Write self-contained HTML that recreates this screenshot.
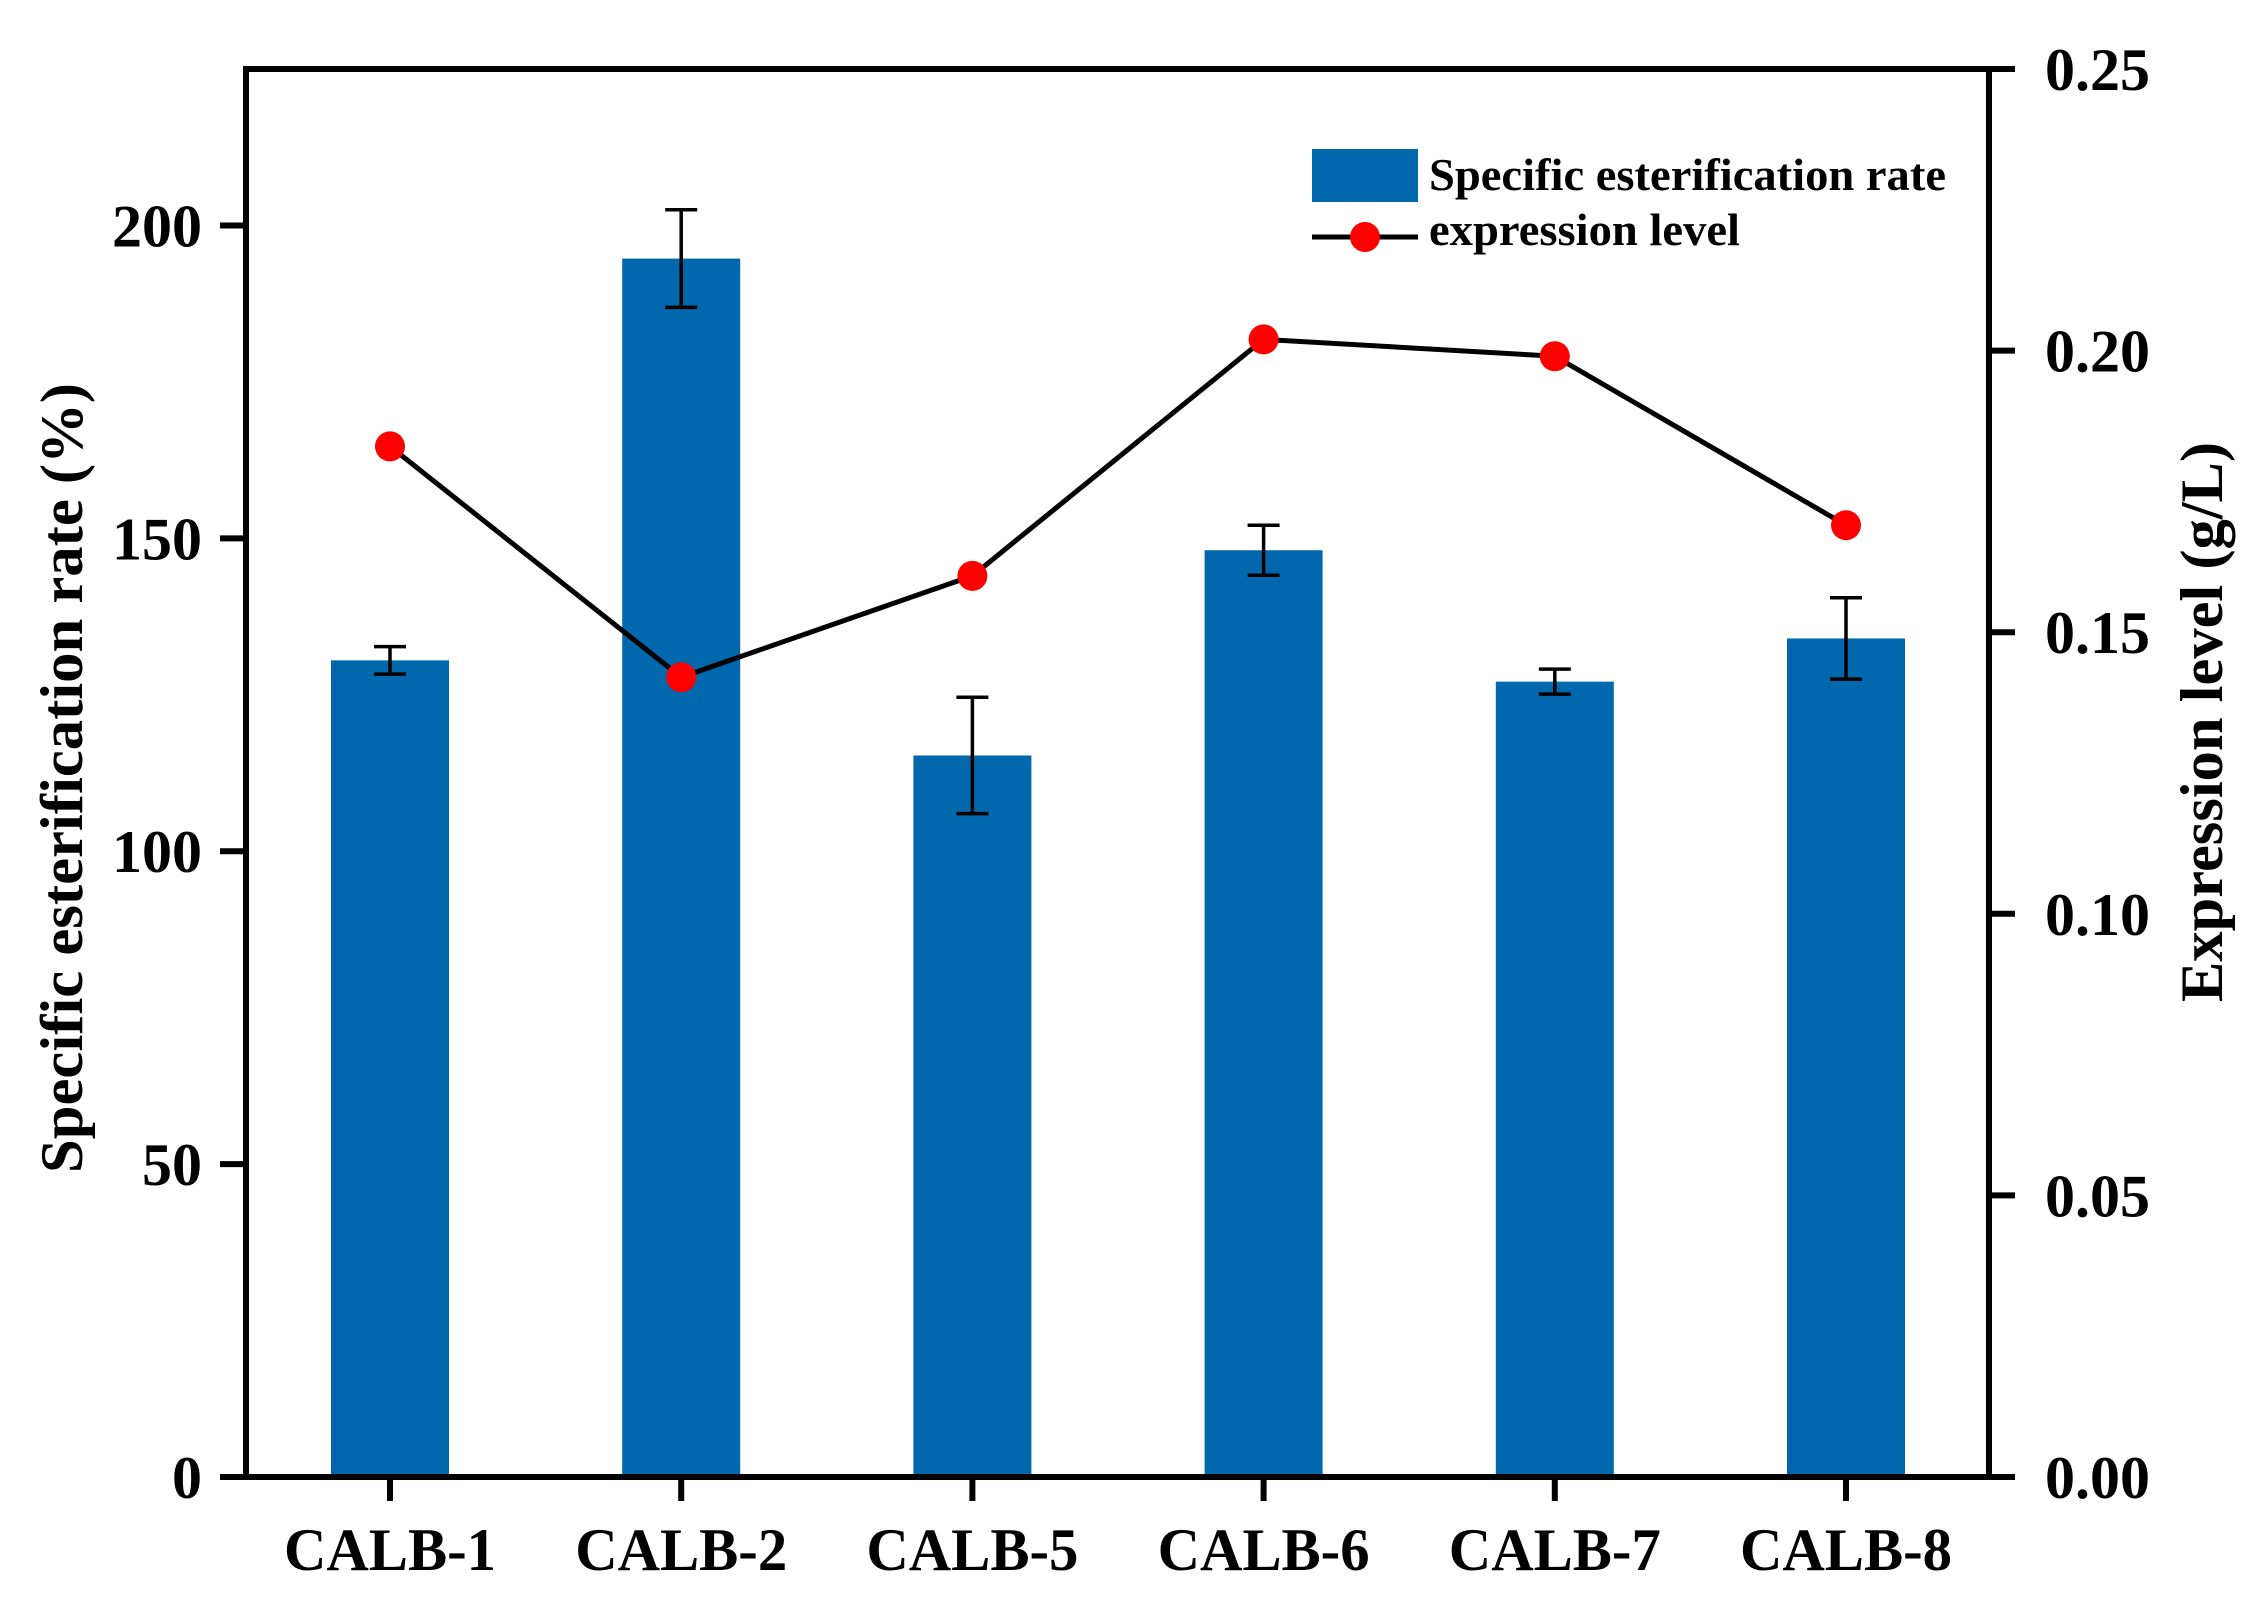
<!DOCTYPE html>
<html><head><meta charset="utf-8"><style>
html,body{margin:0;padding:0;background:#fff;}
svg{display:block;}
text{font-family:"Liberation Serif",serif;font-weight:bold;fill:#000;}
</style></head><body>
<svg id="chart" width="2268" height="1611" viewBox="0 0 2268 1611">
<g id="bars"></g>
<g id="errs"></g>
<g id="line"></g>
<g id="axes"></g>
<text x="0" y="0" transform="translate(82,778) rotate(-90)" text-anchor="middle" font-size="60" textLength="790" lengthAdjust="spacingAndGlyphs">Specific esterification rate (%)</text>
<text x="0" y="0" transform="translate(2222,722) rotate(-90)" text-anchor="middle" font-size="60" textLength="560" lengthAdjust="spacingAndGlyphs">Expression level (g/L)</text>
<g>
<rect x="1312" y="149" width="106" height="53" fill="#0268ad"/>
<text x="1429" y="190" font-size="46" textLength="517" lengthAdjust="spacingAndGlyphs">Specific esterification rate</text>
<line x1="1312" y1="237" x2="1418" y2="237" stroke="#000" stroke-width="5"/>
<circle cx="1365" cy="237" r="15" fill="#ff0000"/>
<text x="1429" y="245" font-size="46" textLength="311" lengthAdjust="spacingAndGlyphs">expression level</text>
</g>
</svg>
<script>
const categories=["CALB-1","CALB-2","CALB-5","CALB-6","CALB-7","CALB-8"];
const rates=[130.5,194.7,115.3,148.1,127.1,134];
const rateErrors=[2.2,7.8,9.3,4,2,6.5];
const expression=[0.183,0.142,0.160,0.202,0.199,0.169];
const leftTicks=[0,50,100,150,200];
const rightTicks=["0.00","0.05","0.10","0.15","0.20","0.25"];

const NS="http://www.w3.org/2000/svg";
const L=246,R=1989,T=69,B=1477;
const yL=v=>B-(v/225)*(B-T);
const yR=v=>B-(v/0.25)*(B-T);
const xC=i=>390+i*291.2;
function mk(tag,attrs,parent){const e=document.createElementNS(NS,tag);for(const k in attrs)e.setAttribute(k,attrs[k]);parent.appendChild(e);return e;}
const gb=document.getElementById('bars'),ge=document.getElementById('errs'),gl=document.getElementById('line'),ga=document.getElementById('axes');
rates.forEach((v,i)=>{
 const r=mk('rect',{x:xC(i)-59,y:yL(v),width:118,height:B-yL(v),fill:'#0268ad'},gb);
 
 
 const e=rateErrors[i],g=mk('g',{stroke:'#000','stroke-width':3.5},ge);
 
 
 mk('line',{x1:xC(i),x2:xC(i),y1:yL(v+e),y2:yL(v-e)},g);
 mk('line',{x1:xC(i)-16,x2:xC(i)+16,y1:yL(v+e),y2:yL(v+e)},g);
 mk('line',{x1:xC(i)-16,x2:xC(i)+16,y1:yL(v-e),y2:yL(v-e)},g);
});
const pl=mk('polyline',{points:expression.map((v,i)=>xC(i)+','+yR(v)).join(' '),fill:'none',stroke:'#000','stroke-width':5},gl);


expression.forEach((v,i)=>{
 const c=mk('circle',{cx:xC(i),cy:yR(v),r:15,fill:'#ff0000'},gl);
 
 
});
const frame=mk('path',{d:`M${L},${T} H${R} V${B} H${L} Z`,fill:'none',stroke:'#000','stroke-width':6},ga);


leftTicks.forEach(v=>{
 mk('line',{x1:L-26,x2:L,y1:yL(v),y2:yL(v),stroke:'#000','stroke-width':6},ga);
 const t=mk('text',{x:L-44,y:yL(v)+21,'text-anchor':'end','font-size':60},ga);
 t.textContent=v;
 
 
});
rightTicks.forEach(s=>{
 const y=yR(parseFloat(s));
 mk('line',{x1:R,x2:R+26,y1:y,y2:y,stroke:'#000','stroke-width':6},ga);
 const t=mk('text',{x:R+56,y:y+21,'font-size':60},ga);
 t.textContent=s;
 
 
});
categories.forEach((c,i)=>{
 mk('line',{x1:xC(i),x2:xC(i),y1:B,y2:B+24,stroke:'#000','stroke-width':6},ga);
 const t=mk('text',{x:xC(i),y:1570,'text-anchor':'middle','font-size':60,textLength:212,lengthAdjust:'spacingAndGlyphs'},ga);
 t.textContent=c;
 
 
});
</script>
</body></html>
